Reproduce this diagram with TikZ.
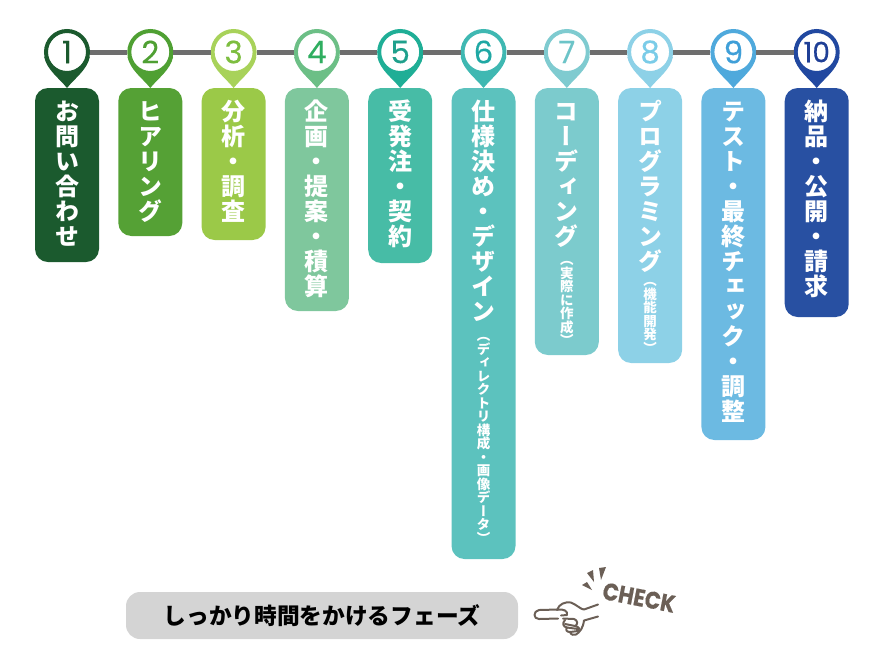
\documentclass[tikz,border=0pt]{standalone}
\usepackage{fontspec}
\newfontfamily\jpvert[RawFeature=+vert]{Noto Sans CJK JP}
\newfontfamily\jpflat{Noto Sans CJK JP}
\newfontfamily\numfont[FakeBold=0.3]{Poppins}
% one glyph per line, for the upright text in the bars
\makeatletter
\newcommand{\tatebig}[1]{\fontsize{24}{25}\jpvert\bfseries\@tfor\tatech:=#1\do{\hbox to 40pt{\hss\rule[-3.4pt]{0pt}{25pt}\tatech\hss}}}
\newcommand{\tatesmall}[1]{\fontsize{13.5}{13.5}\jpvert\bfseries\@tfor\tatech:=#1\do{\hbox to 40pt{\hss\rule[-1.9pt]{0pt}{13.5pt}\tatech\hss}}}
\makeatother
\definecolor{ink1}{HTML}{1B5A2E}
\definecolor{ink2}{HTML}{55A135}
\definecolor{ink3}{HTML}{9BC948}
\definecolor{ink4}{HTML}{7FC79D}
\definecolor{ink5}{HTML}{47BCA6}
\definecolor{ink6}{HTML}{5CC2BE}
\definecolor{ink7}{HTML}{7CCBCD}
\definecolor{ink8}{HTML}{8DD1E7}
\definecolor{ink9}{HTML}{6CBAE2}
\definecolor{ink10}{HTML}{2850A2}
\definecolor{ring2}{HTML}{4FA033}
\definecolor{ring3}{HTML}{A8D25A}
\definecolor{ring4}{HTML}{6CBF86}
\definecolor{ring5}{HTML}{1FAE96}
\definecolor{ring6}{HTML}{3FB8B2}
\definecolor{ring7}{HTML}{7FCBD0}
\definecolor{ring9}{HTML}{4FA9DC}
\definecolor{ring10}{HTML}{2148A0}
\definecolor{num3}{HTML}{7DBE40}
\definecolor{num4}{HTML}{2FAE60}
\definecolor{num5}{HTML}{1FA08C}
\definecolor{num6}{HTML}{1FA8A4}
\definecolor{num7}{HTML}{6CC4C8}
\definecolor{num8}{HTML}{7ACCE8}
\definecolor{num9}{HTML}{3F9FD8}
\definecolor{num10}{HTML}{1F3F96}
\definecolor{handbrown}{HTML}{6B5F56}
\tikzset{
  barbox/.style={anchor=north,rounded corners=13pt,minimum width=64pt,inner sep=0pt,text=white,outer sep=0pt},
  pinhead/.style={circle,fill=white,line width=4pt,minimum size=42pt,inner sep=0pt,outer sep=2pt,font=\fontsize{31}{31}\numfont},
  timeline/.style={line width=5pt,color=black!57},
  pillbox/.style={rounded corners=14pt,fill=black!17,minimum width=392pt,minimum height=47pt,inner sep=0pt},
  handline/.style={draw=handbrown,line width=2pt,line cap=round,line join=round},
}
% tip of a pin, then its head with the number
\newcommand{\stoppin}[5]{%
  \fill[#3] (#2-22.8,57) .. controls (#2-20,70) and (#2-8,78) .. (#2,88) .. controls (#2+8,78) and (#2+20,70) .. (#2+22.8,57) -- cycle;
  \node[pinhead,draw=#3,text=#4] (#1) at (#2,52) {#5};}
% bar with its text set from the top
\newcommand{\stopbar}[5]{%
  \node[barbox,fill=#3,minimum height=#4pt] (#1) at (#2,88) {\vbox to #4pt{\offinterlineskip\vskip 11pt #5\vss}};}
\begin{document}
\begin{tikzpicture}[x=1pt,y=-1pt]
\useasboundingbox (0,0) rectangle (893,665);

%pins
\stoppin{pin1}{67}{ink1}{ink1}{1}
\stoppin{pin2}{150.3}{ring2}{ring2}{2}
\stoppin{pin3}{233.6}{ring3}{num3}{3}
\stoppin{pin4}{316.9}{ring4}{num4}{4}
\stoppin{pin5}{400.2}{ring5}{num5}{5}
\stoppin{pin6}{483.5}{ring6}{num6}{6}
\stoppin{pin7}{566.8}{ring7}{num7}{7}
\stoppin{pin8}{650.1}{ink8}{num8}{8}
\stoppin{pin9}{733.4}{ring9}{num9}{9}
\stoppin{pin10}{816.7}{ring10}{num10}{\fontsize{28}{28}\selectfont 10}

%timeline
\draw[timeline] (pin1) -- (pin2);
\draw[timeline] (pin2) -- (pin3);
\draw[timeline] (pin3) -- (pin4);
\draw[timeline] (pin4) -- (pin5);
\draw[timeline] (pin5) -- (pin6);
\draw[timeline] (pin6) -- (pin7);
\draw[timeline] (pin7) -- (pin8);
\draw[timeline] (pin8) -- (pin9);
\draw[timeline] (pin9) -- (pin10);

%bars
\stopbar{bar1}{67}{ink1}{174}{\tatebig{お問い合わせ}}
\stopbar{bar2}{150.3}{ink2}{148}{\tatebig{ヒアリング}}
\stopbar{bar3}{233.6}{ink3}{152}{\tatebig{分析・調査}}
\stopbar{bar4}{316.9}{ink4}{223}{\tatebig{企画・提案・積算}}
\stopbar{bar5}{400.2}{ink5}{175}{\tatebig{受発注・契約}}
\stopbar{bar6}{483.5}{ink6}{471}{\tatebig{仕様決め・デザイン}\vskip 5pt\tatesmall{（ディレクトリ構成・画像データ）}}
\stopbar{bar7}{566.8}{ink7}{267}{\tatebig{コーディング}\vskip 4pt\tatesmall{（実際に作成）}}
\stopbar{bar8}{650.1}{ink8}{275}{\tatebig{プログラミング}\tatesmall{（機能開発）}}
\stopbar{bar9}{733.4}{ink9}{352}{\tatebig{テスト・最終チェック・調整}}
\stopbar{bar10}{816.7}{ink10}{229}{\tatebig{納品・公開・請求}}

%bottom label
\node[pillbox] (phase) at (322,615.5) {\fontsize{22.7}{24}\jpflat\bfseries しっかり時間をかけるフェーズ\hspace{5pt}};

%hand
\draw[handline] (558,609.5) -- (539,610) .. controls (533,611) and (533,619) .. (539,619) -- (558,618.5);
\draw[handline] (557,610) .. controls (559,604) and (565,601.5) .. (571,602.5) .. controls (577,605) and (581,609.5) .. (584,609.5) -- (598,604.5);
\draw[handline] (558,609.5) .. controls (564,609) and (568,611) .. (567,615) -- (561,615.5);
\draw[handline] (563,618.5) -- (574,619) .. controls (578,620) and (578,625) .. (575,626) -- (565,624);
\draw[handline] (565,620) .. controls (562,623) and (563,627) .. (567,627.5) -- (578,629) ;
\draw[handline] (575,626) .. controls (580,627) and (580,630) .. (578,631) -- (570,632);
\draw[handline] (567,627.5) .. controls (565,630) and (567,632) .. (570,632) .. controls (571,635) and (574,635.5) .. (576,634.5) .. controls (580,632) and (583,628) .. (584,620.5) -- (598,616.5);

%burst
\fill[handbrown] (582,585) -- (587,582) -- (592,590) -- cycle;
\fill[handbrown] (587,573) -- (593,570) -- (594,582) -- cycle;
\fill[handbrown] (599,568) -- (606,567) -- (601,580) -- cycle;

\node[rotate=-11,yscale=1.15,inner sep=0pt,text=handbrown,font=\fontsize{21}{21}\numfont\bfseries] (check) at (639,597.5) {CHECK};
\end{tikzpicture}
\end{document}
